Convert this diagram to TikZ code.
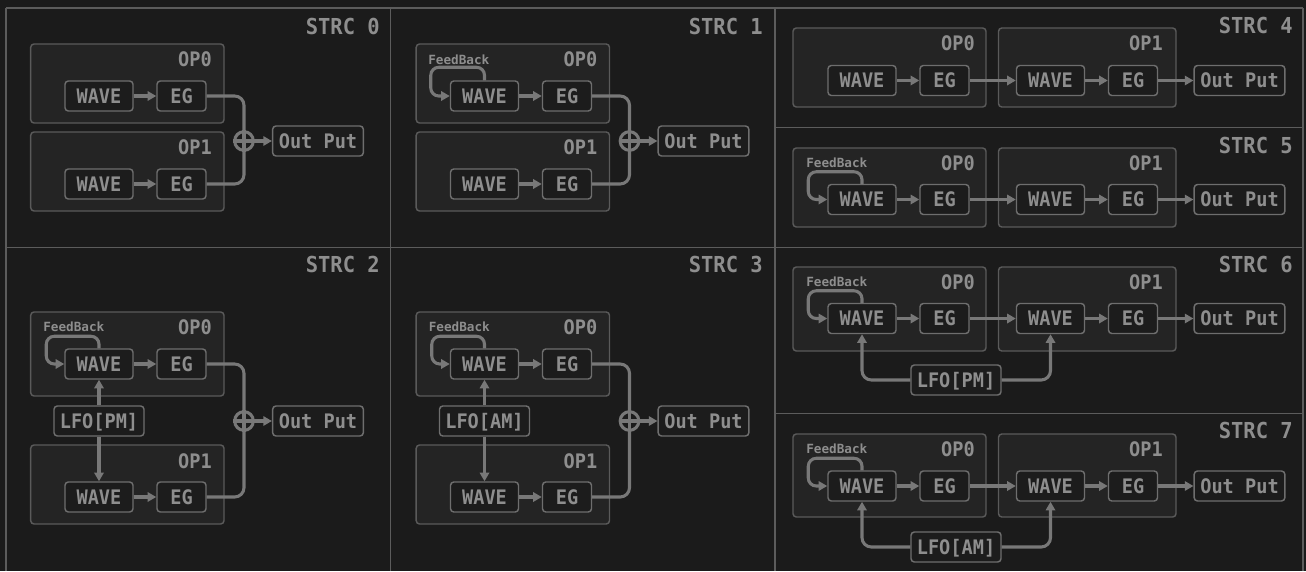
\documentclass[tikz,border=0pt]{standalone}
\usepackage{fontspec}
\newfontfamily\mono[FakeStretch=0.93]{DejaVu Sans Mono}
\newfontfamily\fbmono{DejaVu Sans Mono}
\usetikzlibrary{arrows.meta,fit,calc}
\definecolor{bg}{HTML}{1B1B1B}
\definecolor{frame}{HTML}{5C5C5C}
\definecolor{opfill}{HTML}{242424}
\definecolor{opborder}{HTML}{5A5A5A}
\definecolor{nodefill}{HTML}{1C1C1C}
\definecolor{nodeborder}{HTML}{6E6E6E}
\definecolor{txt}{HTML}{8E8E8E}
\definecolor{conn}{HTML}{787878}
\tikzset{
  frameline/.style={draw=frame, line width=1.2pt},
  opbox/.style={draw=opborder, fill=opfill, line width=1.1pt, rounded corners=2.5pt, inner sep=0pt},
  blk/.style={draw=nodeborder, fill=nodefill, line width=1.1pt, rounded corners=2.5pt, inner sep=0pt,
    minimum height=22.5pt, text=txt, font=\mono\bfseries\fontsize{15}{15}\selectfont,
    text height=10.8pt, text depth=0pt},
  wavebox/.style={blk, minimum width=51pt},
  egbox/.style={blk, minimum width=36.75pt},
  outbox/.style={blk, minimum width=68pt},
  lfobox/.style={blk, minimum width=67.5pt},
  oplbl/.style={anchor=east, inner sep=0pt, text=txt, font=\mono\bfseries\fontsize{15}{15}\selectfont},
  strclbl/.style={anchor=east, inner sep=0pt, text=txt, font=\mono\bfseries\fontsize{16.5}{16.5}\selectfont},
  fblbl/.style={anchor=west, inner sep=0pt, text=txt, font=\fbmono\bfseries\fontsize{9.5}{9.5}\selectfont},
  connline/.style={draw=conn, line width=2.3pt},
  arr/.style={connline, -{Triangle[length=6.5pt,width=7pt]}},
  sumnode/.style={circle, draw=conn, line width=2.3pt, minimum size=14pt, inner sep=0pt, fill=bg}
}
\begin{document}
\begin{tikzpicture}[x=0.75pt,y=-0.75pt]
\fill[bg] (0,0) rectangle (1306,571);
\useasboundingbox (0,0) rectangle (1306,571);
% frames
\draw[frameline] (6,8) -- (1303,8);
\draw[frameline] (6,247.5) -- (1303,247.5);
\draw[frameline] (6,8) -- (6,571);
\draw[frameline] (390.5,8) -- (390.5,571);
\draw[frameline] (775,8) -- (775,571);
\draw[frameline] (1303,8) -- (1303,571);
\draw[frameline] (775,127.5) -- (1303,127.5);
\draw[frameline] (775,413.5) -- (1303,413.5);
% titles
\node[strclbl] (t0) at (380,26) {STRC 0};
\node[strclbl] (t1) at (763,26) {STRC 1};
\node[strclbl] (t2) at (380,264) {STRC 2};
\node[strclbl] (t3) at (763,264) {STRC 3};
\node[strclbl] (t4) at (1293,25) {STRC 4};
\node[strclbl] (t5) at (1293,145) {STRC 5};
\node[strclbl] (t6) at (1293,264) {STRC 6};
\node[strclbl] (t7) at (1293,430) {STRC 7};

% ---------- STRC 0 ----------
\node[opbox, fit={(30.7,44) (224,123)}] (p0op0) {};
\node[oplbl] (p0l0) at (212,59) {OP0};
\node[wavebox] (p0w0) at (99,96) {WAVE};
\node[egbox] (p0e0) at (181.5,96) {EG};
\node[opbox, fit={(30.7,132) (224,211)}] (p0op1) {};
\node[oplbl] (p0l1) at (212,147) {OP1};
\node[wavebox] (p0w1) at (99,184) {WAVE};
\node[egbox] (p0e1) at (181.5,184) {EG};
\node[outbox] (p0o) at (318,141) {Out Put};
\draw[arr] (p0w0) -- (p0e0);
\draw[arr] (p0w1) -- (p0e1);
\draw[connline, rounded corners=7] (p0e0.east) -| (244,141);
\draw[connline, rounded corners=7] (p0e1.east) -| (244,141);
\node[sumnode] (p0s) at (244,141) {};
\draw[connline] (p0s.north) -- (p0s.south) (p0s.west) -- (p0s.east);
\draw[arr] (p0s.east) -- (p0o.west);

% ---------- STRC 1 ----------
\begin{scope}[shift={(385.5,0)}]
\node[opbox, fit={(30.7,44) (224,123)}] (p1op0) {};
\node[oplbl] (p1l0) at (212,59) {OP0};
\node[fblbl] (p1fb) at (42.5,60) {FeedBack};
\node[wavebox] (p1w0) at (99,96) {WAVE};
\node[egbox] (p1e0) at (181.5,96) {EG};
\node[opbox, fit={(30.7,132) (224,211)}] (p1op1) {};
\node[oplbl] (p1l1) at (212,147) {OP1};
\node[wavebox] (p1w1) at (99,184) {WAVE};
\node[egbox] (p1e1) at (181.5,184) {EG};
\node[outbox] (p1o) at (318,141) {Out Put};
\draw[arr] (p1w0) -- (p1e0);
\draw[arr] (p1w1) -- (p1e1);
\draw[arr, rounded corners=6] (p1w0.north) -- ++(0,-13) -| ($(p1w0.west)+(-19,0)$) -- (p1w0.west);
\draw[connline, rounded corners=7] (p1e0.east) -| (244,141);
\draw[connline, rounded corners=7] (p1e1.east) -| (244,141);
\node[sumnode] (p1s) at (244,141) {};
\draw[connline] (p1s.north) -- (p1s.south) (p1s.west) -- (p1s.east);
\draw[arr] (p1s.east) -- (p1o.west);
\end{scope}

% ---------- STRC 2 ----------
\node[opbox, fit={(30.7,312) (224,396)}] (p2op0) {};
\node[oplbl] (p2l0) at (212,327) {OP0};
\node[fblbl] (p2fb) at (43,327) {FeedBack};
\node[wavebox] (p2w0) at (99,364) {WAVE};
\node[egbox] (p2e0) at (181.5,364) {EG};
\node[opbox, fit={(30.7,445) (224,524)}] (p2op1) {};
\node[oplbl] (p2l1) at (212,461) {OP1};
\node[wavebox] (p2w1) at (99,497) {WAVE};
\node[egbox] (p2e1) at (181.5,497) {EG};
\node[lfobox] (p2lfo) at (99,421) {LFO[PM]};
\node[outbox] (p2o) at (318,421) {Out Put};
\draw[arr] (p2w0) -- (p2e0);
\draw[arr] (p2w1) -- (p2e1);
\draw[arr, rounded corners=6] (p2w0.north) -- ++(0,-12) -| ($(p2w0.west)+(-18,0)$) -- (p2w0.west);
\draw[arr] (p2lfo.north) -- (p2w0.south);
\draw[arr] (p2lfo.south) -- (p2w1.north);
\draw[connline, rounded corners=7] (p2e0.east) -| (244,421);
\draw[connline, rounded corners=7] (p2e1.east) -| (244,421);
\node[sumnode] (p2s) at (244,421) {};
\draw[connline] (p2s.north) -- (p2s.south) (p2s.west) -- (p2s.east);
\draw[arr] (p2s.east) -- (p2o.west);

% ---------- STRC 3 ----------
\begin{scope}[shift={(385.5,0)}]
\node[opbox, fit={(30.7,312) (224,396)}] (p3op0) {};
\node[oplbl] (p3l0) at (212,327) {OP0};
\node[fblbl] (p3fb) at (43,327) {FeedBack};
\node[wavebox] (p3w0) at (99,364) {WAVE};
\node[egbox] (p3e0) at (181.5,364) {EG};
\node[opbox, fit={(30.7,445) (224,524)}] (p3op1) {};
\node[oplbl] (p3l1) at (212,461) {OP1};
\node[wavebox] (p3w1) at (99,497) {WAVE};
\node[egbox] (p3e1) at (181.5,497) {EG};
\node[lfobox] (p3lfo) at (99,421) {LFO[AM]};
\node[outbox] (p3o) at (318,421) {Out Put};
\draw[arr] (p3w0) -- (p3e0);
\draw[arr] (p3w1) -- (p3e1);
\draw[arr, rounded corners=6] (p3w0.north) -- ++(0,-12) -| ($(p3w0.west)+(-18,0)$) -- (p3w0.west);
\draw[arr] (p3lfo.north) -- (p3w0.south);
\draw[arr] (p3lfo.south) -- (p3w1.north);
\draw[connline, rounded corners=7] (p3e0.east) -| (244,421);
\draw[connline, rounded corners=7] (p3e1.east) -| (244,421);
\node[sumnode] (p3s) at (244,421) {};
\draw[connline] (p3s.north) -- (p3s.south) (p3s.west) -- (p3s.east);
\draw[arr] (p3s.east) -- (p3o.west);
\end{scope}

% ---------- STRC 4 ----------
\node[opbox, fit={(793,28) (986,107)}] (p4op0) {};
\node[oplbl] (p4l0) at (975,43) {OP0};
\node[opbox, fit={(998.5,28) (1176,107)}] (p4op1) {};
\node[oplbl] (p4l1) at (1163,43) {OP1};
\node[wavebox] (p4w0) at (862,80.5) {WAVE};
\node[egbox] (p4e0) at (944.5,80.5) {EG};
\node[wavebox] (p4w1) at (1050.5,80.5) {WAVE};
\node[egbox] (p4e1) at (1133,80.5) {EG};
\node[outbox] (p4o) at (1239.5,80.5) {Out Put};
\draw[arr] (p4w0) -- (p4e0);
\draw[arr] (p4e0) -- (p4w1);
\draw[arr] (p4w1) -- (p4e1);
\draw[arr] (p4e1) -- (p4o);

% ---------- STRC 5 ----------
\node[opbox, fit={(793,148) (986,227)}] (p5op0) {};
\node[oplbl] (p5l0) at (975,163) {OP0};
\node[fblbl] (p5fb) at (806,163) {FeedBack};
\node[opbox, fit={(998.5,148) (1176,227)}] (p5op1) {};
\node[oplbl] (p5l1) at (1163,163) {OP1};
\node[wavebox] (p5w0) at (862,199.5) {WAVE};
\node[egbox] (p5e0) at (944.5,199.5) {EG};
\node[wavebox] (p5w1) at (1050.5,199.5) {WAVE};
\node[egbox] (p5e1) at (1133,199.5) {EG};
\node[outbox] (p5o) at (1239.5,199.5) {Out Put};
\draw[arr] (p5w0) -- (p5e0);
\draw[arr] (p5e0) -- (p5w1);
\draw[arr] (p5w1) -- (p5e1);
\draw[arr] (p5e1) -- (p5o);
\draw[arr, rounded corners=6] (p5w0.north) -- ++(0,-12) -| ($(p5w0.west)+(-19,0)$) -- (p5w0.west);

% ---------- STRC 6 ----------
\node[opbox, fit={(793,267) (986,351)}] (p6op0) {};
\node[oplbl] (p6l0) at (975,282) {OP0};
\node[fblbl] (p6fb) at (806,282) {FeedBack};
\node[opbox, fit={(998.5,267) (1176,351)}] (p6op1) {};
\node[oplbl] (p6l1) at (1163,282) {OP1};
\node[wavebox] (p6w0) at (862,318.5) {WAVE};
\node[egbox] (p6e0) at (944.5,318.5) {EG};
\node[wavebox] (p6w1) at (1050.5,318.5) {WAVE};
\node[egbox] (p6e1) at (1133,318.5) {EG};
\node[outbox] (p6o) at (1239.5,318.5) {Out Put};
\node[lfobox] (p6lfo) at (956,380) {LFO[PM]};
\draw[arr] (p6w0) -- (p6e0);
\draw[arr] (p6e0) -- (p6w1);
\draw[arr] (p6w1) -- (p6e1);
\draw[arr] (p6e1) -- (p6o);
\draw[arr, rounded corners=6] (p6w0.north) -- ++(0,-12) -| ($(p6w0.west)+(-19,0)$) -- (p6w0.west);
\draw[arr, rounded corners=7] (p6lfo.west) -| (p6w0.south);
\draw[arr, rounded corners=7] (p6lfo.east) -| (p6w1.south);

% ---------- STRC 7 ----------
\node[opbox, fit={(793,434) (986,517)}] (p7op0) {};
\node[oplbl] (p7l0) at (975,449) {OP0};
\node[fblbl] (p7fb) at (806,449) {FeedBack};
\node[opbox, fit={(998.5,434) (1176,517)}] (p7op1) {};
\node[oplbl] (p7l1) at (1163,449) {OP1};
\node[wavebox] (p7w0) at (862,486) {WAVE};
\node[egbox] (p7e0) at (944.5,486) {EG};
\node[wavebox] (p7w1) at (1050.5,486) {WAVE};
\node[egbox] (p7e1) at (1133,486) {EG};
\node[outbox] (p7o) at (1239.5,486) {Out Put};
\node[lfobox] (p7lfo) at (956,547) {LFO[AM]};
\draw[arr] (p7w0) -- (p7e0);
\draw[arr] (p7e0) -- (p7w1);
\draw[arr] (p7w1) -- (p7e1);
\draw[arr] (p7e1) -- (p7o);
\draw[arr, rounded corners=6] (p7w0.north) -- ++(0,-12) -| ($(p7w0.west)+(-19,0)$) -- (p7w0.west);
\draw[arr, rounded corners=7] (p7lfo.west) -| (p7w0.south);
\draw[arr, rounded corners=7] (p7lfo.east) -| (p7w1.south);
\end{tikzpicture}
\end{document}
